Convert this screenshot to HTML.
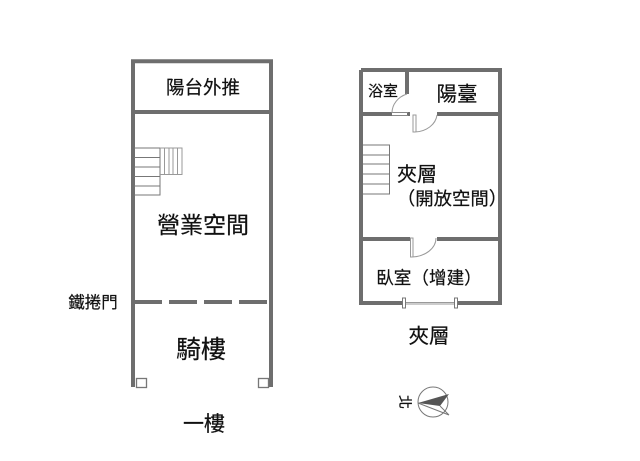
<!DOCTYPE html>
<html><head><meta charset="utf-8"><style>
html,body{margin:0;padding:0;background:#fff;width:640px;height:461px;overflow:hidden}
svg{display:block;filter:blur(.35px)}
text{font-family:"Liberation Sans","Noto Sans CJK TC",sans-serif;fill:#111;stroke:#111;stroke-width:.2px}
</style></head><body>
<svg width="640" height="461" viewBox="0 0 640 461" xmlns="http://www.w3.org/2000/svg">
<g fill="none" stroke="#6e6e6e" stroke-width="4">
<path d="M133 387V61.3H271V387"/>
<path d="M133 112H271"/>
<path d="M134 302H162M169 302H197M204 302H232M239 302H267" stroke-width="4"/>
<path d="M361 70H500V303H456M403 303H361V70"/>
<path d="M407 70V94M361 114H392M437 114H500M361 239H410M437 239H500" stroke-width="4"/>
<path d="M410 114H407" stroke-width="4"/>
</g>
<g fill="none" stroke="#777" stroke-width="1">
<path d="M134 148H160V195H134M134 157.500H160M134 167H160M134 176.500H160M134 186H160"/>
<path d="M160 148H182V174.500H160M164.500 148V174.500M169 148V174.500M173 148V174.500M177.500 148V174.500" stroke="#999"/>
<path d="M363 145H389.500V194H363M363 155H389.500M363 164H389.500M363 174H389.500M363 184H389.500"/>
<rect x="136.500" y="378.500" width="10" height="9" stroke-width="1.300"/>
<rect x="258.500" y="378.500" width="10" height="9" stroke-width="1.300"/>
<path d="M392 112.500H408M392 115.500H408" stroke="#888"/>
<path d="M407 94A22 20 0 0 0 392 113" stroke="#999"/>
<path d="M413 115H416V132H413Z M415 132A23 19 0 0 0 437 115" stroke="#999"/>
<path d="M410.500 238V257H413V238Z M412 257A25 19 0 0 0 436 238" stroke="#999"/>
<path d="M405 302.500H454M405 304H454" stroke="#999"/>
<rect x="402.500" y="298" width="3" height="10" fill="#fff" stroke="#777"/>
<rect x="454.500" y="298" width="3" height="10" fill="#fff" stroke="#777"/>
</g>
<g font-size="16" text-anchor="middle">
<text x="203" y="94" font-size="18.500">陽台外推</text>
<text x="203" y="233" font-size="23">營業空間</text>
<text x="201" y="358" font-size="25">騎樓</text>
<text x="93" y="308" font-size="16.500">鐵捲門</text>
<text x="204" y="431" font-size="21">一樓</text>
<text x="383" y="96" font-size="15">浴室</text>
<text x="457" y="101" font-size="20.500">陽臺</text>
<text x="417" y="181" font-size="20">夾層</text>
<text x="452" y="205" font-size="18.400">（開放空間）</text>
<text x="429" y="284" font-size="17.600">臥室（增建）</text>
<text x="429" y="343" font-size="20.500">夾層</text>
</g>
<g>
<circle cx="433" cy="402" r="15" fill="none" stroke="#777" stroke-width="1"/>
<path d="M418 403L449 394L440 406Z" fill="#555"/>
<path d="M418 403L449 415M440 406L449 415" fill="none" stroke="#777"/>
<text x="0" y="0" font-size="14" text-anchor="middle" transform="translate(400 402) rotate(90)">北</text>
</g>
</svg>
</body></html>
